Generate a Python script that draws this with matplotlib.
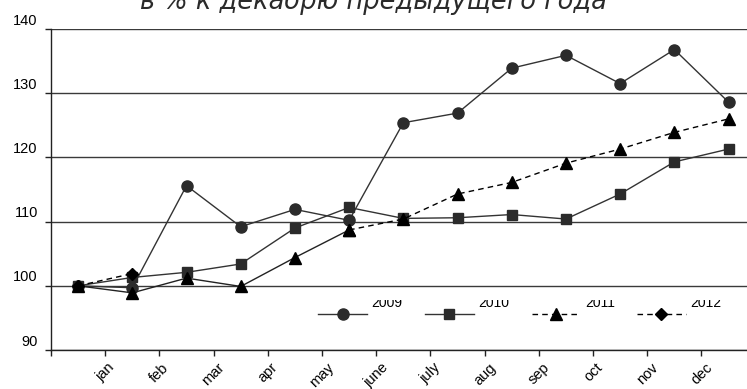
import matplotlib
matplotlib.use('Agg')
import matplotlib.pyplot as plt
import matplotlib.transforms as mtransforms

# ---- data ----
months = ['jan', 'feb', 'mar', 'apr', 'may', 'june', 'july', 'aug', 'sep', 'oct', 'nov', 'dec']
years = ['2009', '2010', '2011', '2012']
v2009 = [100.0, 99.7, 115.6, 109.2, 111.9, 110.2, 125.4, 126.9, 133.9, 135.9, 131.5, 136.8, 128.6]
v2010 = [100.0, 101.3, 102.1, 103.4, 109.0, 112.2, 110.5, 110.6, 111.1, 110.4, 114.3, 119.3, 121.3]
v2011 = [100.0, 98.9, 101.2, 99.9, 104.4, 108.7, 110.4, 114.3, 116.1, 119.1, 121.3, 123.9, 126.0]
v2012 = [100.0, 101.9]
y_ticks = [90, 100, 110, 120, 130, 140]
title = 'в % к декабрю предыдущего года'

W, H = 747, 389
fig = plt.figure(figsize=(W / 100, H / 100), dpi=100)
ax = fig.add_axes([51 / W, 1 - 350 / H, 1 - 51 / W, (350 - 29) / H])
ax.set_ylim(90, 140)
ax.set_xlim(-0.5, 12.34)

for s in ['top', 'right']:
    ax.spines[s].set_visible(False)
for s in ['left', 'bottom']:
    ax.spines[s].set_color('#222222')
    ax.spines[s].set_linewidth(1.0)

ax.set_yticks(y_ticks)
ax.set_yticklabels([str(v) for v in y_ticks], fontsize=10.5, family='Liberation Sans')
ax.tick_params(axis='y', direction='out', length=4.5, width=1, color='#222222', pad=5)
ax.yaxis.grid(True, color='#3a3a3a', lw=1.0)
ax.set_axisbelow(True)
shift = mtransforms.ScaledTranslation(0, 10 / 100, fig.dpi_scale_trans)
for lbl in ax.get_yticklabels():
    lbl.set_transform(lbl.get_transform() + shift)

xt = [i - 0.5 for i in range(len(months) + 1)]
ax.set_xticks(xt)
ax.set_xticklabels([''] + months, fontsize=10.5, family='Liberation Sans', rotation=45,
                   ha='center', va='top')
ax.tick_params(axis='x', direction='out', length=4, width=1, color='#222222', pad=3.5)

x9 = list(range(len(v2009)))
x10 = list(range(len(v2010)))
x11 = list(range(len(v2011)))
x12 = list(range(len(v2012)))

l9, = ax.plot(x9, v2009, color='#333333', lw=1.0, marker='o', ms=8,
              mfc='#2b2b2b', mec='#2b2b2b', label=years[0], zorder=3)
l10, = ax.plot(x10, v2010, color='#333333', lw=1.0, marker='s', ms=7.5,
               mfc='#2b2b2b', mec='#2b2b2b', label=years[1], zorder=3)
# first part of 2011 drawn solid, rest dashed (as in the reference)
ax.plot(x11[:6], v2011[:6], color='#222222', lw=1.0, marker='^', ms=8.5,
        mfc='black', mec='black', zorder=3)
l11, = ax.plot(x11[5:], v2011[5:], color='black', lw=1.0, ls=(0, (4, 3)), marker='^', ms=8.5,
               mfc='black', mec='black', label=years[2], zorder=3)
l12, = ax.plot(x12, v2012, color='black', lw=1.0, ls=(0, (4, 3)), marker='D', ms=6.5,
               mfc='black', mec='black', label=years[3], zorder=3)

leg = fig.legend(handles=[l9, l10, l11, l12], loc='center', ncol=4,
                 bbox_to_anchor=(520 / W, 1 - 315 / H), bbox_transform=fig.transFigure,
                 frameon=False, handlelength=3.5, handletextpad=0.35,
                 columnspacing=1.6, borderpad=0, prop={'family': 'Liberation Sans', 'size': 10})
tshift = mtransforms.ScaledTranslation(0, 12 / 100, fig.dpi_scale_trans)
clip = mtransforms.TransformedBbox(mtransforms.Bbox([[0, 0], [1, 1 - 300 / H]]), fig.transFigure)
for t in leg.get_texts():
    t.set_transform(t.get_transform() + tshift)
    t.set_clip_box(clip)
    t.set_clip_on(True)

fig.text(0.5, 1 - 9 / H, title, ha='center', va='baseline', fontsize=18.5,
         style='oblique', family='DejaVu Sans', color='#2a2a2a')

fig.savefig('out.png', dpi=100)
